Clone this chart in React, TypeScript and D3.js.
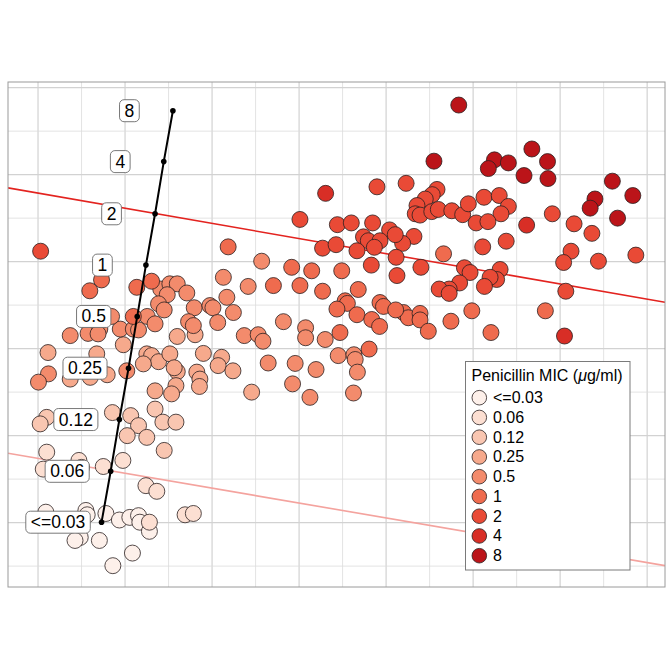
import React from "react";
import * as d3 from "d3";

// MIC categories, legend order
const micLabels = ["<=0.03", "0.06", "0.12", "0.25", "0.5", "1", "2", "4", "8"];
const micColors = ["#fdf0ea", "#fcdfd2", "#f9c6b1", "#f6a98c", "#f38b6c", "#ef6b4e", "#e94a36", "#d82e26", "#bb1419"];

// isolate coordinates (map units), one array per MIC level
const mic003: [number, number][] = [
    [0.18, 1.24], [1.10, 1.28], [1.13, 1.18], [0.97, 0.66], [0.85, 0.59], [1.56, 1.21], [1.87, 1.06],
    [2.11, 1.12], [2.31, 1.16], [2.34, 1.01], [2.56, 0.80], [1.41, 0.59], [2.17, 0.30], [1.72, 0.01],
];
const mic006: [number, number][] = [
    [0.20, 2.62], [0.12, 2.23], [0.94, 2.43], [1.00, 2.27], [1.50, 2.29], [1.95, 2.43], [2.48, 1.85],
    [2.73, 1.72], [3.38, 1.18], [3.57, 1.21], [2.56, 1.01],
];
const mic012: [number, number][] = [
    [2.69, 3.61], [2.87, 3.31], [3.17, 3.31], [1.71, 3.53], [2.13, 3.46], [2.31, 3.23], [0.20, 3.42],
    [0.05, 3.27], [0.89, 3.38], [2.05, 3.00], [2.50, 2.96], [2.90, 2.66],
];
const mic025: [number, number][] = [
    [4.91, 4.00], [3.61, 5.32], [3.20, 5.28], [1.96, 5.09], [2.50, 4.88], [2.61, 4.84], [2.77, 4.70],
    [2.42, 4.65], [3.03, 4.88], [3.20, 4.47], [3.13, 4.56], [3.65, 4.46], [3.72, 4.30], [3.71, 4.13],
    [3.80, 4.89], [4.22, 4.80], [4.14, 4.61], [4.48, 4.49], [1.59, 4.40], [3.17, 4.15], [3.07, 3.96],
    [2.69, 4.03], [0.23, 4.91], [1.35, 4.88], [0.74, 4.30], [1.20, 4.34],
];
const mic05: [number, number][] = [
    [5.14, 7.01], [4.83, 6.43], [5.64, 5.62], [6.15, 5.48], [6.15, 5.25], [6.60, 5.21], [4.74, 5.30],
    [5.06, 5.32], [5.17, 5.17], [6.90, 4.84], [7.26, 4.86], [7.29, 4.75], [7.34, 4.46], [5.29, 4.67],
    [5.91, 4.66], [6.39, 4.52], [5.85, 4.19], [6.25, 3.88], [7.25, 3.98],
    [2.82, 6.37], [3.03, 6.49], [3.20, 6.49], [2.97, 6.24], [3.42, 6.28], [4.26, 6.64], [4.34, 6.18],
    [2.77, 6.03], [2.90, 5.89], [3.59, 5.94], [3.95, 5.99], [4.02, 5.94], [4.49, 5.83],
    [2.51, 5.74], [2.69, 5.57], [1.89, 5.45], [2.19, 5.45], [2.31, 5.43], [3.46, 5.62], [3.57, 5.53],
    [4.13, 5.60], [2.04, 4.49], [1.69, 5.74], [0.74, 5.30], [1.15, 5.35], [1.42, 5.45], [1.38, 5.34],
    [0.24, 4.42], [0.01, 4.23],
];
const mic1: [number, number][] = [
    [9.32, 7.18], [9.97, 5.87], [11.66, 5.87], [8.40, 5.83], [8.51, 5.71], [8.78, 5.81], [8.78, 5.66],
    [8.97, 5.40], [9.49, 5.63], [10.41, 5.37], [5.83, 6.87], [6.29, 6.79], [6.98, 6.79], [4.37, 7.34],
    [5.41, 6.45], [6.02, 6.45], [6.54, 6.32], [7.36, 6.36], [7.06, 6.10], [7.11, 6.04], [6.87, 5.91],
    [7.33, 5.78], [7.67, 5.67], [7.85, 5.51], [7.86, 6.06], [7.94, 5.97], [8.22, 5.89],
    [6.94, 5.37], [7.61, 4.99], [2.27, 6.41], [2.61, 6.55], [2.19, 5.74], [1.46, 6.58], [1.19, 6.33],
];
const mic2: [number, number][] = [
    [8.46, 8.80], [7.79, 8.72], [9.17, 8.66], [9.06, 8.54], [8.90, 8.44], [8.71, 8.29], [8.67, 8.10],
    [8.78, 8.07], [9.05, 8.15], [9.20, 8.20], [9.51, 8.17], [9.76, 8.08], [9.89, 8.33], [10.07, 7.89],
    [10.25, 8.48], [10.60, 8.52], [10.81, 8.27], [10.64, 8.10], [10.34, 7.92],
    [11.82, 8.10], [12.32, 7.87], [12.73, 7.65], [8.64, 7.58], [8.38, 7.42], [10.22, 7.34], [10.76, 7.47],
    [8.80, 6.87], [9.80, 6.86], [9.93, 6.75], [10.62, 6.82], [10.54, 6.59], [10.39, 6.64], [9.69, 6.51],
    [9.45, 6.37], [9.22, 6.37], [9.45, 6.27], [10.26, 6.43], [12.25, 7.24], [12.08, 6.98], [12.88, 7.01],
    [13.74, 7.15], [12.13, 6.32],
    [6.02, 7.97], [6.88, 7.85], [7.20, 7.89], [7.69, 7.89], [8.08, 7.73], [8.21, 7.62], [7.48, 7.57],
    [7.59, 7.48], [7.86, 7.48], [6.54, 7.31], [6.85, 7.39], [7.33, 7.25], [7.73, 7.33], [8.23, 7.10],
    [7.66, 6.92], [8.25, 6.68], [0.06, 7.24],
];
const mic4: [number, number][] = [
    [6.61, 8.57], [11.23, 7.84], [12.10, 5.29],
];
const mic8: [number, number][] = [
    [9.67, 10.60], [9.10, 9.31], [11.35, 9.59], [10.49, 9.34], [10.35, 9.14], [10.81, 9.27], [11.71, 9.30],
    [11.17, 8.98], [11.72, 8.91], [13.20, 8.85], [13.67, 8.52], [12.80, 8.44], [12.69, 8.23], [13.32, 8.00],
];
const pointsByMic = [mic003, mic006, mic012, mic025, mic05, mic1, mic2, mic4, mic8];

// fitted MIC gradient: position of each level along the line
const gradientX = [1.46, 1.67, 1.87, 2.08, 2.28, 2.48, 2.69, 2.89, 3.10];
const gradientY = [1.01, 2.18, 3.37, 4.55, 5.74, 6.92, 8.10, 9.30, 10.47];

// breakpoint lines: y = intercept + slope * x
const boundaryIntercept = [8.575, 2.476];
const boundarySlope = [-0.174, -0.171];
const boundaryColors = ["#e3231f", "#f4a39e"];

const xBreaks = [0, 1, 2, 3, 4, 5, 6, 7, 8, 9, 10, 11, 12, 13, 14];
const yBreaks = [0, 1, 2, 3, 4, 5, 6, 7, 8, 9, 10, 11];
const xDomain: [number, number] = [-0.69, 14.41];
const yDomain: [number, number] = [-0.48, 11.13];

const FONT = "'Liberation Sans', Arial, Helvetica, sans-serif";

let measureCtx: CanvasRenderingContext2D | null = null;
function textWidth(s: string, size: number): number {
    if (!measureCtx) measureCtx = document.createElement("canvas").getContext("2d");
    if (!measureCtx) return s.length * size * 0.55;
    measureCtx.font = `${size}px 'Liberation Sans', Arial, sans-serif`;
    return measureCtx.measureText(s).width;
}

export default function App() {
    const width = 672, height = 672;
    const panel = { left: 8, right: 665, top: 82, bottom: 587 };

    const x = d3.scaleLinear(xDomain, [panel.left, panel.right]);
    const y = d3.scaleLinear(yDomain, [panel.bottom, panel.top]);

    const gradientLine = d3.line<number>()
        .x((d, i) => x(gradientX[i]))
        .y((d, i) => y(gradientY[i]));

    const labelSize = 17.5;
    const legend = { x: 465.5, y: 361.5, w: 164.5, h: 208.5 };

    return <svg width={width} height={height}
        style={{ position: "absolute", left: 0, top: 0, background: "white" }}
        fontFamily={FONT}>
        <defs>
            <clipPath id="panel">
                <rect x={panel.left} y={panel.top} width={panel.right - panel.left} height={panel.bottom - panel.top} />
            </clipPath>
        </defs>
        {/* Grid */}
        <g>
            {xBreaks.map(b => (
                <line key={"x" + b} x1={x(b)} x2={x(b)} y1={panel.top} y2={panel.bottom}
                    stroke={b % 2 === 0 ? "#d2d2d2" : "#dcdcdc"} strokeWidth={b % 2 === 0 ? 1.2 : 0.8} />
            ))}
            {yBreaks.map(b => (
                <line key={"y" + b} x1={panel.left} x2={panel.right} y1={y(b)} y2={y(b)}
                    stroke={b % 2 === 1 ? "#d2d2d2" : "#dcdcdc"} strokeWidth={b % 2 === 1 ? 1.2 : 0.8} />
            ))}
        </g>
        {/* Breakpoint lines */}
        <g clipPath="url(#panel)">
            {boundaryIntercept.map((a, i) => (
                <line key={i}
                    x1={x(xDomain[0])} y1={y(a + boundarySlope[i] * xDomain[0])}
                    x2={x(xDomain[1])} y2={y(a + boundarySlope[i] * xDomain[1])}
                    stroke={boundaryColors[i]} strokeWidth={1.6} />
            ))}
        </g>
        {/* Isolates */}
        <g>
            {pointsByMic.map((pts, k) => pts.map((p, j) => (
                <circle key={k + "-" + j} cx={x(p[0])} cy={y(p[1])} r={8}
                    fill={micColors[k]} stroke="#2a2020" strokeWidth={0.8} />
            )))}
        </g>
        {/* MIC gradient */}
        <path d={gradientLine(gradientX)!} stroke="black" strokeWidth={2} fill="none" />
        {gradientX.map((gx, i) => (
            <circle key={"g" + i} cx={x(gx)} cy={y(gradientY[i])} r={2.8} fill="black" />
        ))}
        {gradientX.map((gx, i) => {
            const w = textWidth(micLabels[i], labelSize) + 10;
            const cx = x(gx - 1);
            const cy = y(gradientY[i]);
            return <g key={"l" + i}>
                <rect x={cx - w / 2} y={cy - 11} width={w} height={22} rx={4.5}
                    fill="white" stroke="#6a6a6a" strokeWidth={0.9} />
                <text x={cx} y={cy} textAnchor="middle" dominantBaseline="central"
                    fontSize={labelSize} fill="black">{micLabels[i]}</text>
            </g>;
        })}
        {/* Panel border */}
        <rect x={panel.left} y={panel.top} width={panel.right - panel.left} height={panel.bottom - panel.top}
            fill="none" stroke="#9a9a9a" strokeWidth={1} />
        {/* Legend */}
        <g>
            <rect x={legend.x} y={legend.y} width={legend.w} height={legend.h} fill="white" stroke="#7a7a7a" strokeWidth={1} />
            <text x={471.5} y={381} fontSize={16} fill="black">
                Penicillin MIC (<tspan fontStyle="italic">μ</tspan>g/ml)
            </text>
            {micLabels.map((lab, i) => {
                const cy = 397.7 + i * 19.75;
                return <g key={"k" + i}>
                    <circle cx={479.3} cy={cy} r={7.3} fill={micColors[i]} stroke="#2a2020" strokeWidth={0.8} />
                    <text x={493} y={cy} dominantBaseline="central" fontSize={16} fill="black">{lab}</text>
                </g>;
            })}
        </g>
    </svg>;
}
